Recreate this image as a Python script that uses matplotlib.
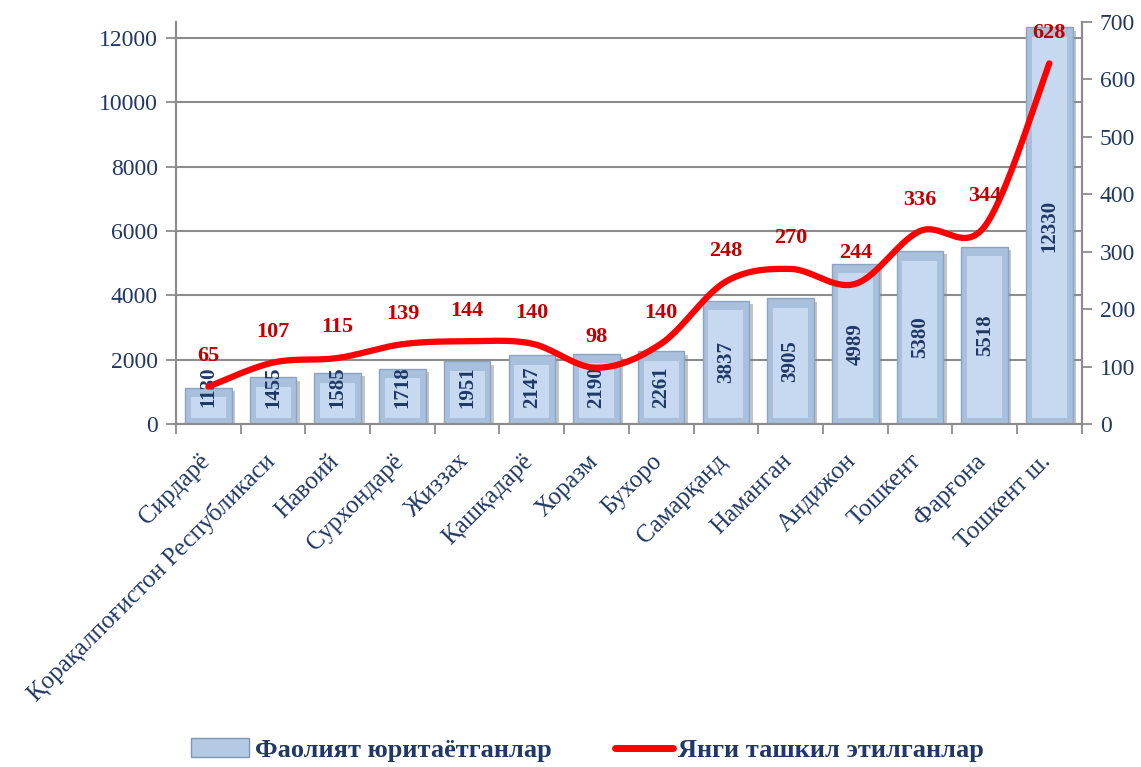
import numpy as np
import matplotlib
matplotlib.use("Agg")
import matplotlib.pyplot as plt
import matplotlib.patheffects as pe
import matplotlib.transforms as mtransforms
from matplotlib.patches import Rectangle
from matplotlib.lines import Line2D

plt.rcParams["font.family"] = ["Liberation Serif", "DejaVu Serif"]

regions = [
    "Сирдарё", "Қорақалпоғистон Республикаси", "Навоий", "Сурхондарё",
    "Жиззах", "Қашқадарё", "Хоразм", "Бухоро", "Самарқанд", "Наманган",
    "Андижон", "Тошкент", "Фарғона", "Тошкент ш.",
]
active = [1130, 1455, 1585, 1718, 1951, 2147, 2190, 2261, 3837, 3905, 4989, 5380, 5518, 12330]
new_firms = [65, 107, 115, 139, 144, 140, 98, 140, 248, 270, 244, 336, 344, 628]

left_ticks = [0, 2000, 4000, 6000, 8000, 10000, 12000]
right_ticks = [0, 100, 200, 300, 400, 500, 600, 700]

navy = "#1F3864"
dark_red = "#C00000"
axis_gray = "#8C8C8C"


def smooth(xs, ys, n=40):
    # Excel-like smoothed line (Catmull-Rom as cubic Bezier)
    p = np.column_stack([xs, ys]).astype(float)
    p = np.vstack([p[0], p, p[-1]])
    t = np.linspace(0, 1, n)[:, None]
    out = []
    for i in range(1, len(p) - 2):
        p0, p1, p2, p3 = p[i - 1], p[i], p[i + 1], p[i + 2]
        c1 = p1 + (p2 - p0) / 6
        c2 = p2 - (p3 - p1) / 6
        seg = ((1 - t) ** 3) * p1 + 3 * ((1 - t) ** 2) * t * c1 + 3 * (1 - t) * t ** 2 * c2 + t ** 3 * p2
        out.append(seg)
    out = np.vstack(out)
    return out[:, 0], out[:, 1]


fig = plt.figure(figsize=(11.41, 7.67), dpi=100)
ax = fig.add_axes([0.1543, 0.4472, 0.7937, 0.5241])
ax2 = ax.twinx()

x = np.arange(len(regions))
w = 0.72

bars = ax.bar(x, active, width=w, color="#A9C0DD", edgecolor="#8AA4C6", linewidth=1, zorder=2)
for b in bars:
    b.set_path_effects([pe.SimplePatchShadow(offset=(2.5, -2.5), shadow_rgbFace="#7F7F7F", alpha=0.45), pe.Normal()])
# bevel: lighter inner face
for xi, v in zip(x, active):
    ax.add_patch(Rectangle((xi - w / 2 + 0.09, 200), w - 0.18, v - 500,
                           facecolor="#C6D9F1", edgecolor="none", zorder=3))

for xi, v in zip(x, active):
    ax.text(xi, max(v / 2, 1150), str(v), rotation=90, ha="center", va="center",
            fontsize=15, fontweight="bold", color=navy, zorder=4)

ax.set_xlim(-0.5, len(regions) - 0.5)
ax.set_ylim(0, 12500)
ax.set_yticks(left_ticks)
ax.set_yticklabels([str(t) for t in left_ticks], fontsize=17, color=navy)
ax.yaxis.grid(True, color=axis_gray, linewidth=1.5, zorder=0)
ax.set_axisbelow(True)

# category labels, rotated 45 degrees, right end just under each bar
ax.set_xticks(np.arange(-0.5, len(regions), 1))
ax.set_xticklabels([])
ax.tick_params(axis="x", length=7, color=axis_gray, width=1.3)
lbl_tr = mtransforms.blended_transform_factory(ax.transData, ax.transAxes) + \
    mtransforms.ScaledTranslation(-0.10, -0.26, fig.dpi_scale_trans)
for xi, name in zip(x, regions):
    ax.text(xi, 0, name, transform=lbl_tr, rotation=45, rotation_mode="anchor",
            ha="right", va="top", fontsize=18, color=navy)
ax.tick_params(axis="y", length=7, color=axis_gray, width=1.3, pad=6)

for a in (ax, ax2):
    a.spines["top"].set_visible(False)
    for s in ("left", "right", "bottom"):
        a.spines[s].set_color(axis_gray)
        a.spines[s].set_linewidth(1.5)

sx, sy = smooth(x, new_firms)
ax2.plot(sx, sy, color="#FF0000", linewidth=4.5, solid_capstyle="round", zorder=5)
ax2.set_ylim(0, 700)
ax2.set_yticks(right_ticks)
ax2.set_yticklabels([str(t) for t in right_ticks], fontsize=17, color=navy)
ax2.tick_params(axis="y", length=7, color=axis_gray, width=1.3, pad=6)

for xi, v in zip(x, new_firms):
    ax2.annotate(str(v), (xi, v), xytext=(0, 22), textcoords="offset points",
                 ha="center", va="center", fontsize=16, fontweight="bold", color=dark_red, zorder=6)

handles = [
    Rectangle((0, 0), 1, 1, facecolor="#B4C9E4", edgecolor="#7F96B5", linewidth=1),
    Line2D([0], [0], color="#FF0000", linewidth=5, solid_capstyle="round"),
]
fig.legend(handles, ["Фаолият юритаётганлар", "Янги ташкил этилганлар"],
           loc="center", bbox_to_anchor=(0.515, 0.022), ncol=2, frameon=False,
           prop={"size": 19, "weight": "bold"}, labelcolor=navy,
           handlelength=2.2, handletextpad=0.2, columnspacing=2.4)

fig.savefig("out.png", dpi=100)
